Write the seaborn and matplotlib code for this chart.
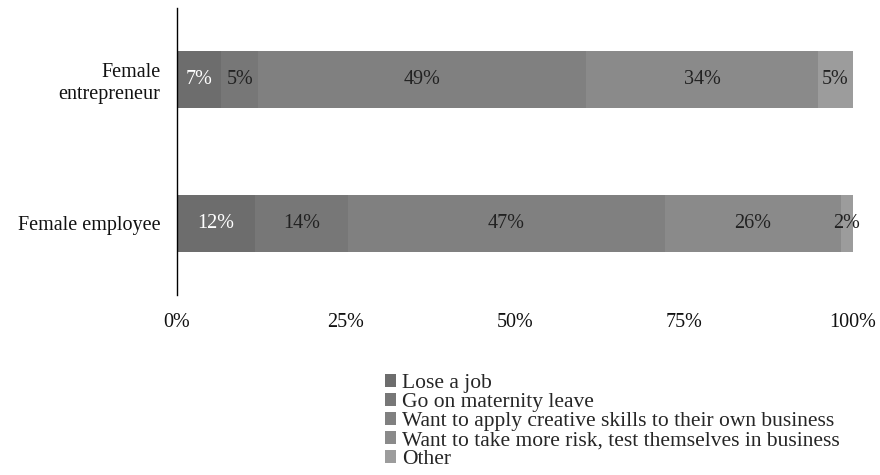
import numpy as np
import pandas as pd
import matplotlib.pyplot as plt
import seaborn as sns
from matplotlib.patches import Patch

# Data (shares in percent)
groups = ['Female\nentrepreneur', 'Female employee']
reasons = ['Lose a job',
           'Go on maternity leave',
           'Want to apply creative skills to their own business',
           'Want to take more risk, test themselves in business',
           'Other']
entrepreneur = [6.6, 5.4, 48.6, 34.2, 5.2]
employee = [11.6, 13.7, 46.9, 26.0, 1.8]
colors = ['#6d6d6d', '#777777', '#808080', '#8a8a8a', '#9c9c9c']
label_colors = ['white', '#222222', '#222222', '#222222', '#222222']

sns.set_style('white')
plt.rcParams['font.family'] = ['Liberation Serif', 'DejaVu Serif']

vals = np.array([entrepreneur, employee])
cum = vals.cumsum(axis=1)

fig = plt.figure(figsize=(8.8, 4.75), dpi=100)
ax = fig.add_axes([0.201, 0.379, 0.768, 0.604])

# stacked bars: draw cumulative totals from the outermost segment inwards
for i in range(len(reasons) - 1, -1, -1):
    df = pd.DataFrame({'group': groups, 'value': cum[:, i]})
    sns.barplot(data=df, x='value', y='group', orient='h', color=colors[i],
                saturation=1, width=0.4, linewidth=0, ax=ax)

# segment labels
for g in range(len(groups)):
    for i in range(len(reasons)):
        center = cum[g, i] - vals[g, i] / 2
        ax.text(center, g, f'{vals[g, i]:.0f}%', ha='center', va='center',
                fontsize=14.5, color=label_colors[i])

ax.set_xlim(0, 100)
ax.set_ylim(1.5, -0.5)
ax.set_xticks([0, 25, 50, 75, 100])
ax.set_xticklabels(['0%', '25%', '50%', '75%', '100%'])
ax.tick_params(axis='both', length=0, labelsize=14.5, colors='#111111')
ax.tick_params(axis='x', pad=13)
ax.tick_params(axis='y', pad=12)
ax.set_xlabel('')
ax.set_ylabel('')
for s in ['top', 'right', 'bottom']:
    ax.spines[s].set_visible(False)
ax.spines['left'].set_color('black')
ax.spines['left'].set_linewidth(1)

handles = [Patch(facecolor=c, edgecolor='none') for c in colors]
fig.legend(handles, reasons, loc='upper left', bbox_to_anchor=(0.425, 0.235),
           frameon=False, fontsize=15.5, handlelength=0.5, handleheight=0.5,
           handletextpad=0.3, labelspacing=0.0, borderpad=0)

fig.savefig('out.png', dpi=100)
